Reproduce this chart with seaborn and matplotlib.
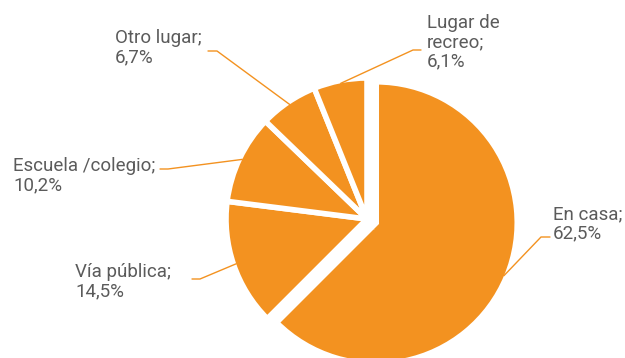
import matplotlib
matplotlib.use('Agg')

import numpy as np
import seaborn as sns
import matplotlib.pyplot as plt

# Data
labels = ['En casa', 'Vía pública', 'Escuela /colegio', 'Otro lugar', 'Lugar de\nrecreo']
values = [62.5, 14.5, 10.2, 6.7, 6.1]
value_text = ['62,5%', '14,5%', '10,2%', '6,7%', '6,1%']

sns.set_theme(style='white')
plt.rcParams['font.family'] = ['Roboto', 'DejaVu Sans']

orange = '#F39220'
grey = '#5b5b5b'

fig = plt.figure(figsize=(6.25, 3.58), dpi=100)
ax = fig.add_axes([0, 0, 1, 1])

cx, cy, R = 367, 358 - 219, 141
# explode is in data units (pixels here)
wedges, _ = ax.pie(values, colors=[orange] * len(values), startangle=90, counterclock=False,
                   radius=R, center=(cx, cy), explode=[10, 0, 0, 0, 0],
                   wedgeprops=dict(edgecolor='white', linewidth=4))
ax.set_xlim(0, 625)
ax.set_ylim(0, 358)
ax.set_aspect('equal')
ax.axis('off')

# label layout (pixel coords, y from top): text anchor, elbow, line end
layout = [
    ((553, 224), (541, 237), (550, 237)),
    ((75, 282), (200, 279), (192, 279)),
    ((13, 176), (168, 169), (160, 169)),
    ((115, 48), (217, 51), (208, 51)),
    ((427, 42), (413, 50), (421, 50)),
]

for w, lab, vt, (tpos, elbow, lend) in zip(wedges, labels, value_text, layout):
    ang = np.deg2rad((w.theta1 + w.theta2) / 2)
    wx, wy = w.center
    anchor = (wx + 0.98 * w.r * np.cos(ang), wy + 0.98 * w.r * np.sin(ang))
    ax.plot([anchor[0], elbow[0], lend[0]], [anchor[1], 358 - elbow[1], 358 - lend[1]],
            color=orange, lw=1)
    ax.text(tpos[0], 358 - tpos[1], f'{lab};\n{vt}', ha='left', va='center',
            color=grey, fontsize=13.5, linespacing=1.1)

fig.savefig('out.png', dpi=100)
